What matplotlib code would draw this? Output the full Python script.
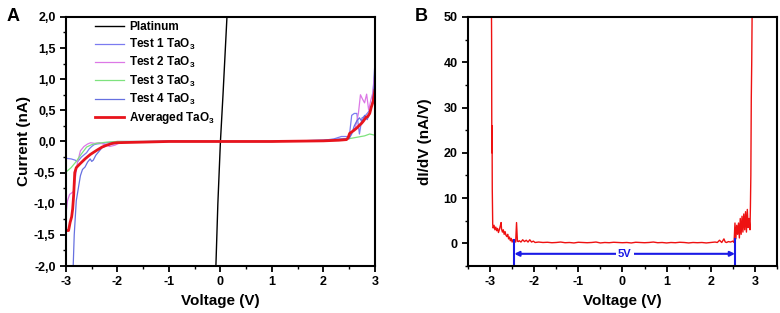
import matplotlib.pyplot as plt
from matplotlib.ticker import MultipleLocator, FuncFormatter

plt.rcParams['font.family'] = ['Liberation Sans', 'DejaVu Sans']
plt.rcParams['font.weight'] = 'bold'
plt.rcParams['axes.unicode_minus'] = False
plt.rcParams['mathtext.fontset'] = 'custom'
plt.rcParams['mathtext.rm'] = 'Liberation Sans:bold'
plt.rcParams['mathtext.it'] = 'Liberation Sans:bold'
plt.rcParams['mathtext.bf'] = 'Liberation Sans:bold'

# panel A: I-V curves
platV = [-0.09, -0.05, 0.0, 0.05, 0.13]
platI = [-2.05, -1.0, 0.0, 0.75, 2.05]

t1V = [-3.0, -2.9, -2.82, -2.78, -2.7, -2.6, -2.55, -2.5, -2.45, -2.4, -2.3, -2.2, -2.1, -2.0, -1.8, -1.5, -1.0, 0.0,
       1.0, 1.5, 2.0, 2.2, 2.35, 2.45, 2.5, 2.55, 2.6, 2.65, 2.7, 2.75, 2.8, 2.85, 2.9, 2.95, 3.0]
t1I = [-0.27, -0.28, -0.30, -0.33, -0.25, -0.18, -0.12, -0.08, -0.05, -0.04, -0.03, -0.02, -0.01, 0.0, 0.0, 0.0, 0.01, 0.0,
       0.0, 0.01, 0.02, 0.04, 0.08, 0.08, 0.06, 0.42, 0.45, 0.45, 0.12, 0.38, 0.40, 0.45, 0.5, 0.6, 1.25]

t2V = [-3.0, -2.97, -2.93, -2.88, -2.85, -2.82, -2.78, -2.72, -2.65, -2.58, -2.52, -2.45, -2.35, -2.25, -2.15, -2.05, -1.95,
       -1.8, -1.5, -1.0, 0.0, 1.0, 2.0, 2.3, 2.5, 2.55, 2.62, 2.68, 2.72, 2.76, 2.8, 2.84, 2.88, 2.92, 2.96, 3.0]
t2I = [-1.16, -0.95, -0.85, -0.82, -0.8, -0.6, -0.35, -0.15, -0.08, -0.04, -0.02, -0.03, -0.02, -0.05, -0.08, -0.06, -0.02,
       -0.01, -0.01, 0.0, 0.0, 0.0, 0.01, 0.02, 0.04, 0.15, 0.22, 0.45, 0.75, 0.68, 0.62, 0.76, 0.5, 0.66, 0.78, 1.1]

t3V = [-3.0, -2.9, -2.8, -2.7, -2.6, -2.5, -2.4, -2.2, -2.0, -1.0, 0.0, 1.0, 2.0, 2.4, 2.6, 2.8, 2.9, 2.95, 3.0]
t3I = [-0.49, -0.42, -0.32, -0.2, -0.09, -0.05, -0.03, -0.01, 0.0, 0.0, 0.0, 0.0, 0.01, 0.03, 0.06, 0.09, 0.12, 0.11, 0.1]

t4V = [-2.86, -2.84, -2.8, -2.76, -2.72, -2.68, -2.63, -2.58, -2.53, -2.5, -2.47, -2.42, -2.37, -2.3, -2.2, -2.1, -2.0,
       -1.8, -1.0, 0.0, 1.0, 2.0, 2.3, 2.5, 2.55, 2.6, 2.65, 2.7, 2.75, 2.8, 2.85, 2.9, 2.95, 3.0]
t4I = [-2.0, -1.5, -0.95, -0.75, -0.55, -0.45, -0.41, -0.33, -0.28, -0.32, -0.30, -0.22, -0.17, -0.10, -0.06, -0.04, -0.02,
       -0.01, 0.0, 0.0, 0.0, 0.02, 0.04, 0.05, 0.12, 0.25, 0.33, 0.38, 0.32, 0.42, 0.35, 0.45, 0.6, 1.0]

avgV = [-3.0, -2.95, -2.92, -2.89, -2.87, -2.85, -2.83, -2.8, -2.73, -2.63, -2.53, -2.4, -2.3, -2.21, -2.1, -2.02, -1.5,
        -1.0, 0.0, 1.0, 2.0, 2.3, 2.45, 2.48, 2.51, 2.58, 2.64, 2.7, 2.74, 2.78, 2.83, 2.86, 2.9, 2.93, 2.97, 3.0]
avgI = [-1.43, -1.43, -1.3, -1.21, -1.08, -0.85, -0.5, -0.42, -0.36, -0.28, -0.21, -0.14, -0.09, -0.06, -0.03, -0.02, -0.01,
        0.0, 0.0, 0.0, 0.01, 0.02, 0.03, 0.06, 0.13, 0.17, 0.21, 0.26, 0.29, 0.33, 0.39, 0.40, 0.45, 0.55, 0.65, 0.82]

# panel B: differential conductance
dV = [-2.97, -2.965, -2.96, -2.955, -2.95, -2.94, -2.93, -2.91, -2.89, -2.87, -2.85, -2.83, -2.81, -2.79, -2.77, -2.75,
      -2.74, -2.72, -2.70, -2.68, -2.66, -2.64, -2.62, -2.60, -2.58, -2.56, -2.54, -2.52, -2.50, -2.48, -2.46, -2.44,
      -2.42, -2.40, -2.38, -2.36, -2.34, -2.30, -2.26, -2.22, -2.18, -2.14, -2.10, -2.06, -2.02, -1.98, -1.9, -1.8,
      -1.7, -1.6, -1.5, -1.4, -1.3, -1.2, -1.1, -1.0, -0.9, -0.8, -0.7, -0.6, -0.5, -0.4, -0.3, -0.2, -0.1, 0.0, 0.1,
      0.2, 0.3, 0.4, 0.5, 0.6, 0.7, 0.8, 0.9, 1.0, 1.1, 1.2, 1.3, 1.4, 1.5, 1.6, 1.7, 1.8, 1.9, 2.0, 2.1, 2.15, 2.2,
      2.25, 2.3, 2.33, 2.36, 2.4, 2.45, 2.5, 2.53, 2.55, 2.57, 2.59, 2.61, 2.63, 2.65, 2.67, 2.69, 2.71, 2.73, 2.75,
      2.77, 2.79, 2.81, 2.83, 2.85, 2.87, 2.89, 2.90, 2.91, 2.92, 2.93, 2.94]
dG = [55, 45, 20, 26, 12, 4.2, 3.4, 4.0, 3.0, 3.6, 2.8, 3.3, 2.4, 3.0, 3.8, 4.6, 3.2, 2.5, 3.0, 2.0, 2.6, 1.8, 1.5, 2.0,
      1.0, 1.4, 0.6, 1.1, 0.3, 0.8, 0.1, 0.5, 0.3, 4.6, 0.5, 0.4, 0.6, 0.3, 0.8, 0.4, 0.7, 0.3, 0.8, 0.3, 0.5, 0.2,
      0.3, 0.2, 0.25, 0.15, 0.2, 0.3, 0.15, 0.2, 0.1, 0.25, 0.2, 0.15, 0.2, 0.3, 0.1, 0.2, 0.15, 0.25, 0.2, 0.15, 0.2,
      0.1, 0.25, 0.2, 0.15, 0.2, 0.3, 0.15, 0.2, 0.1, 0.2, 0.15, 0.25, 0.2, 0.1, 0.2, 0.15, 0.2, 0.1, 0.2, 0.3, 0.2,
      0.7, 0.2, 1.0, 0.3, 0.2, 0.4, 0.3, 0.5, 0.2, 4.5, 1.0, 4.0, 2.0, 4.5, 1.2, 5.5, 2.0, 6.0, 2.5, 6.5, 3.0, 7.0,
      2.5, 7.5, 3.5, 5.5, 3.0, 8.0, 15, 32, 40, 52]
gapLeft = -2.45
gapRight = 2.55

fig = plt.figure(figsize=(7.8, 3.13), dpi=100)
axA = fig.add_axes([0.0846, 0.150, 0.396, 0.796])
axB = fig.add_axes([0.600, 0.150, 0.396, 0.796])

axA.plot(platV, platI, color='black', lw=1.0, label='Platinum')
axA.plot(t1V, t1I, color='#7b7bf0', lw=0.9, label=r'Test 1 TaO$_3$')
axA.plot(t2V, t2I, color='#dc78e6', lw=0.9, label=r'Test 2 TaO$_3$')
axA.plot(t3V, t3I, color='#7ee27e', lw=0.9, label=r'Test 3 TaO$_3$')
axA.plot(t4V, t4I, color='#6670e0', lw=0.9, label=r'Test 4 TaO$_3$')
axA.plot(avgV, avgI, color='#e8141c', lw=2.0, label=r'Averaged TaO$_3$')
axA.set_xlim(-3, 3)
axA.set_ylim(-2, 2)
axA.xaxis.set_major_locator(MultipleLocator(1))
axA.xaxis.set_minor_locator(MultipleLocator(0.5))
axA.yaxis.set_major_locator(MultipleLocator(0.5))
axA.yaxis.set_minor_locator(MultipleLocator(0.25))
axA.yaxis.set_major_formatter(FuncFormatter(lambda v, p: ('%.1f' % v).replace('.', ',')))
axA.set_xlabel('Voltage (V)', fontsize=11, fontweight='bold')
axA.set_ylabel('Current (nA)', fontsize=11, fontweight='bold', labelpad=2)
axA.legend(loc='upper left', bbox_to_anchor=(0.07, 1.01), frameon=False, fontsize=8.5,
           handlelength=2.5, handletextpad=0.4, labelspacing=0.28, borderaxespad=0.2)

axB.plot(dV, dG, color='#ee1111', lw=1.0)
axB.plot([gapLeft, gapLeft], [-5, 0.8], color='#1a1ae6', lw=1.5)
axB.plot([gapRight, gapRight], [-5, 1.0], color='#1a1ae6', lw=1.5)
axB.annotate('', xy=(gapLeft, -2.3), xytext=(gapRight, -2.3),
             arrowprops=dict(arrowstyle='<|-|>', color='#1a1ae6', lw=1.5, shrinkA=0, shrinkB=0,
                             mutation_scale=7))
axB.text(0.05, -2.3, '5V', color='#1a1ae6', fontsize=8, fontweight='bold', ha='center', va='center',
         bbox=dict(facecolor='white', edgecolor='none', pad=1.5))
axB.set_xlim(-3.5, 3.5)
axB.set_ylim(-5, 50)
axB.xaxis.set_major_locator(MultipleLocator(1))
axB.xaxis.set_minor_locator(MultipleLocator(0.5))
axB.yaxis.set_major_locator(MultipleLocator(10))
axB.yaxis.set_minor_locator(MultipleLocator(5))
axB.set_xlabel('Voltage (V)', fontsize=11, fontweight='bold')
axB.set_ylabel('dI/dV (nA/V)', fontsize=11, fontweight='bold', labelpad=8)

for ax in (axA, axB):
    for s in ax.spines.values():
        s.set_linewidth(1.5)
    ax.tick_params(which='major', direction='out', length=4, width=1.3, labelsize=9)
    ax.tick_params(which='minor', direction='out', length=2.5, width=1.0)
    for lab in ax.get_xticklabels() + ax.get_yticklabels():
        lab.set_fontweight('bold')

fig.text(0.008, 0.975, 'A', fontsize=13, fontweight='bold', va='top')
fig.text(0.532, 0.975, 'B', fontsize=13, fontweight='bold', va='top')

fig.savefig('out.png', dpi=100)
